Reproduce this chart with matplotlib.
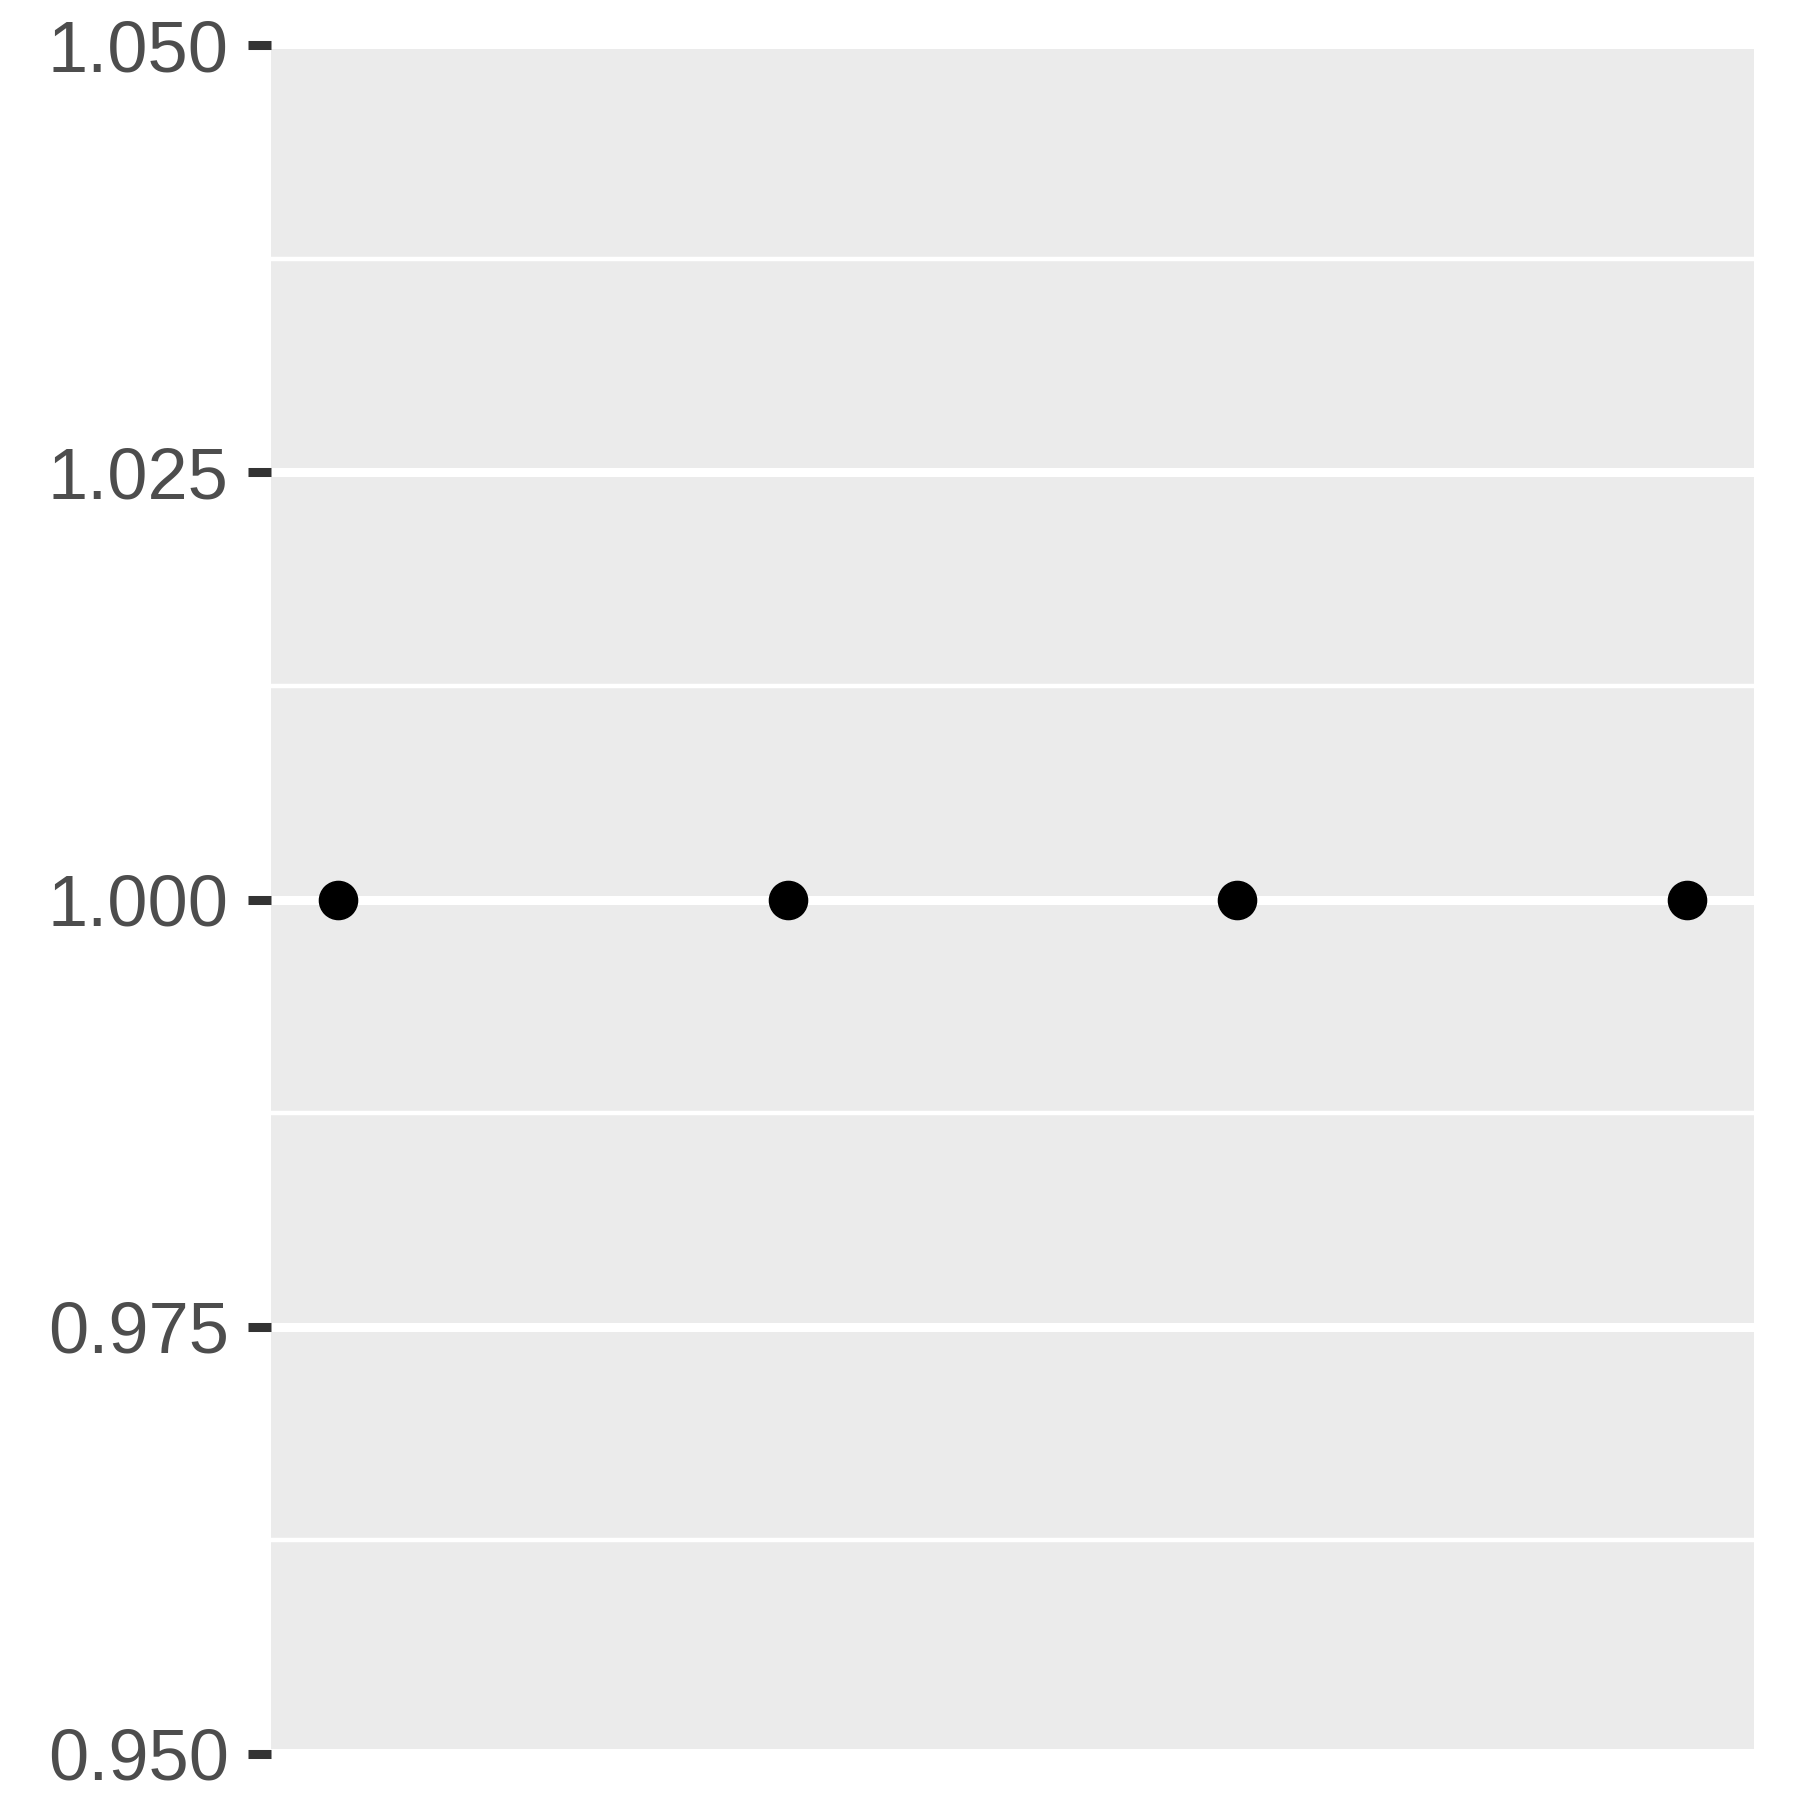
import matplotlib
matplotlib.use("Agg")
import matplotlib.pyplot as plt
from matplotlib.patches import Rectangle
import numpy as np

# data
x_vals = [1, 2, 3, 4]
y_vals = [1.0, 1.0, 1.0, 1.0]
y_ticks = [0.950, 0.975, 1.000, 1.025, 1.050]
y_tick_labels = ["0.950", "0.975", "1.000", "1.025", "1.050"]
y_minor = [0.9625, 0.9875, 1.0125, 1.0375]

plt.rcParams['font.family'] = ['Liberation Sans', 'DejaVu Sans']

fig = plt.figure(figsize=(18, 18), dpi=100)
ax = fig.add_axes([271 / 1800, 46 / 1800, (1754 - 271) / 1800, (1754.5 - 45.5) / 1800])
ax.set_facecolor("none")

ax.set_xlim(0.85, 4.15)
ax.set_ylim(0.95, 1.05)

# grey panel, slightly inside the tick range
ax.add_patch(Rectangle((0, 0.95029), 1, 1.04974 - 0.95029,
                       transform=ax.get_yaxis_transform(),
                       facecolor="#EBEBEB", edgecolor="none", zorder=0))

for v in y_minor:
    ax.axhline(v, color="white", lw=3.2, zorder=1)
for v in y_ticks[1:-1]:
    ax.axhline(v, color="white", lw=6.5, zorder=1)

ax.plot(x_vals, y_vals, "o", color="black", markersize=27.5, zorder=3)

for s in ax.spines.values():
    s.set_visible(False)

ax.set_xticks([])
ax.set_yticks(y_ticks)
ax.set_yticklabels(y_tick_labels)
ax.tick_params(axis="y", length=16.5, width=6.5, color="#333333",
               labelcolor="#4D4D4D", labelsize=52, pad=14)

plt.savefig("out.png", dpi=100)
